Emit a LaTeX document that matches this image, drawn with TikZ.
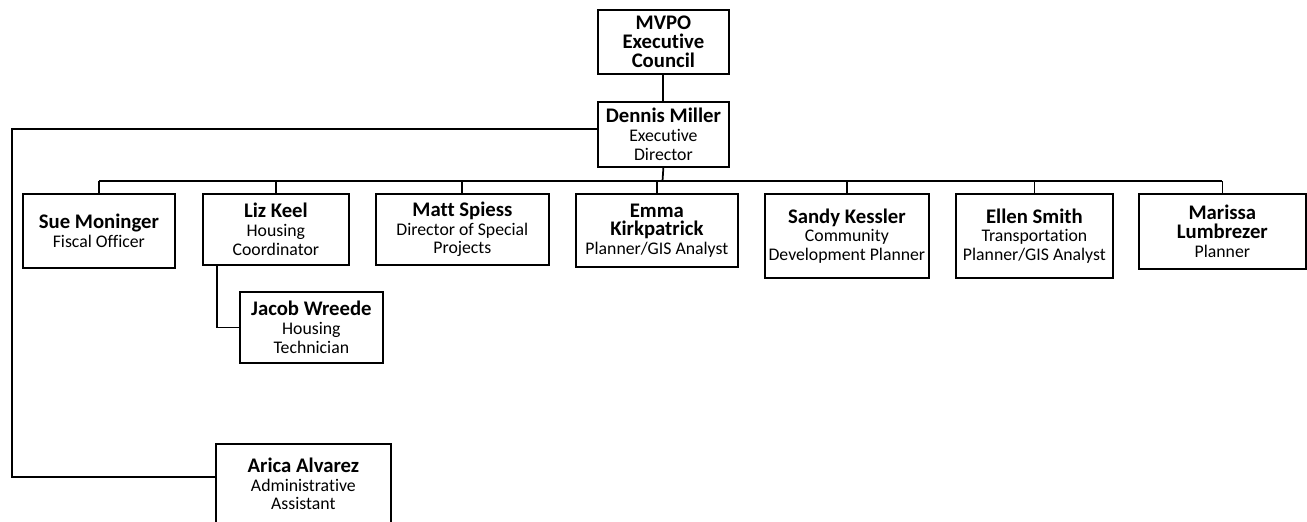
\documentclass[tikz,border=0pt]{standalone}
\usepackage{fontspec}
\setmainfont{Carlito}[Ligatures={NoCommon}]
\newcommand{\pname}[1]{{\fontsize{11.8}{13.2}\selectfont\bfseries #1}}
\tikzset{
  staff/.style={draw, line width=1pt, align=center, anchor=north west,
    inner sep=1pt, font=\fontsize{10.1}{10.6}\selectfont},
  link/.style={line width=1pt}
}
\begin{document}
\begin{tikzpicture}[x=0.02cm, y=-0.02cm]
  \useasboundingbox (0,0) rectangle (1307,521);
  \clip (0,0) rectangle (1307,521);

  % Top of the chart
  \node[staff, minimum width=2.62cm, minimum height=1.28cm] (council) at (597,9)
    {\pname{MVPO}\\\pname{Executive}\\\pname{Council}};
  \node[staff, minimum width=2.62cm, minimum height=1.30cm] (dennis) at (597,101)
    {\pname{Dennis Miller}\\Executive\\Director};

  % Staff row
  \node[staff, minimum width=3.04cm, minimum height=1.48cm] (sue) at (22,193)
    {\pname{Sue Moninger}\\Fiscal Officer};
  \node[staff, minimum width=2.92cm, minimum height=1.42cm] (liz) at (202,193)
    {\pname{Liz Keel}\\Housing\\Coordinator};
  \node[staff, minimum width=3.46cm, minimum height=1.42cm] (matt) at (375,193)
    {\pname{Matt Spiess}\\Director of Special\\Projects};
  \node[staff, minimum width=3.24cm, minimum height=1.46cm] (emma) at (575,193)
    {\pname{Emma}\\\pname{Kirkpatrick}\\Planner/GIS Analyst};
  \node[staff, minimum width=3.28cm, minimum height=1.68cm] (sandy) at (764,193)
    {\pname{Sandy Kessler}\\Community\\Development Planner};
  \node[staff, minimum width=3.14cm, minimum height=1.68cm] (ellen) at (955,193)
    {\pname{Ellen Smith}\\Transportation\\Planner/GIS Analyst};
  \node[staff, minimum width=3.34cm, minimum height=1.50cm] (marissa) at (1138,193)
    {\pname{Marissa}\\\pname{Lumbrezer}\\Planner};

  % Below the row
  \node[staff, minimum width=2.86cm, minimum height=1.42cm] (jacob) at (239,291)
    {\pname{Jacob Wreede}\\Housing\\Technician};
  \node[staff, minimum width=3.50cm, minimum height=1.60cm] (arica) at (215,443)
    {\pname{Arica Alvarez}\\Administrative\\Assistant};

  % Connectors
  \coordinate (bar) at (662.5,181);
  \coordinate (trunk) at (12,477);
  \draw[link] (council.south) -- (dennis.north);
  \draw[link] (dennis.south) -- (bar);
  \draw[link] (bar -| sue.north) -- (bar -| marissa.north);
  \foreach \n in {sue,liz,matt,emma,sandy,ellen,marissa}
    \draw[link] (bar -| \n.north) -- (\n.north);
  \draw[link] ([xshift=0.3cm]liz.south west) |- (jacob.west);
  \draw[link] ([yshift=0.1cm]dennis.west) -| (trunk) -- (trunk -| arica.west);
\end{tikzpicture}
\end{document}
